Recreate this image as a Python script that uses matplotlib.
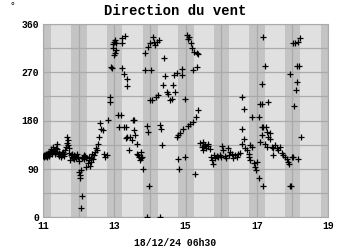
import matplotlib
matplotlib.use("Agg")
import matplotlib.pyplot as plt

# jours (decimal) et direction du vent en degres
days = [
    11.00, 11.02, 11.03, 11.05, 11.06, 11.08, 11.09, 11.11, 11.12, 11.14,
    11.15, 11.17, 11.18, 11.20, 11.22, 11.24, 11.25, 11.27, 11.29, 11.31,
    11.33, 11.35, 11.37, 11.38, 11.40, 11.42, 11.44, 11.46, 11.48, 11.50,
    11.52, 11.54, 11.56, 11.58, 11.60, 11.62, 11.64, 11.66, 11.68, 11.70,
    11.71, 11.72, 11.74, 11.76, 11.78, 11.80, 11.82, 11.84, 11.86, 11.88,
    11.90, 11.92, 11.94, 11.97, 12.00, 12.02, 12.04, 12.05, 12.06, 12.07,
    12.08, 12.10, 12.12, 12.14, 12.16, 12.18, 12.20, 12.22, 12.25, 12.28,
    12.30, 12.32, 12.34, 12.36, 12.38, 12.40, 12.43, 12.46, 12.49, 12.52,
    12.55, 12.57, 12.60, 12.63, 12.67, 12.71, 12.75, 12.79, 12.82, 12.87,
    12.89, 12.91, 12.93, 12.96, 12.97, 12.98, 12.99, 13.02, 13.02, 13.04,
    13.06, 13.11, 13.14, 13.18, 13.21, 13.21, 13.23, 13.26, 13.30, 13.26,
    13.32, 13.33, 13.35, 13.35, 13.37, 13.40, 13.44, 13.49, 13.53, 13.54,
    13.56, 13.58, 13.63, 13.65, 13.68, 13.70, 13.72, 13.74, 13.76, 13.79,
    13.82, 13.85, 13.86, 13.91, 13.93, 13.94, 13.94, 13.98, 14.01, 14.01,
    14.03, 14.05, 14.10, 14.12, 14.15, 14.16, 14.19, 14.24, 14.26, 14.29,
    14.29, 14.31, 14.33, 14.38, 14.41, 14.43, 14.47, 14.52, 14.57, 14.61,
    14.66, 14.69, 14.71, 14.75, 14.75, 14.78, 14.80, 14.82, 14.85, 14.89,
    14.91, 14.94, 14.99, 14.99, 15.04, 15.06, 15.06, 15.10, 15.13, 15.16,
    15.19, 15.22, 15.22, 15.25, 15.27, 15.29, 15.32, 15.32, 15.36, 15.36,
    15.41, 15.45, 15.48, 15.50, 15.52, 15.55, 15.58, 15.62, 15.64, 15.70,
    15.72, 15.75, 15.78, 15.80, 15.84, 15.88, 15.92, 15.96, 16.00, 16.02,
    16.06, 16.10, 16.14, 16.18, 16.22, 16.25, 16.30, 16.34, 16.39, 16.44,
    16.48, 16.53, 16.58, 16.58, 16.60, 16.63, 16.63, 16.67, 16.72, 16.77,
    16.77, 16.81, 16.81, 16.86, 16.86, 16.91, 16.95, 16.98, 17.00, 17.05,
    17.05, 17.08, 17.10, 17.14, 17.14, 17.14, 17.14, 17.19, 17.19, 17.19,
    17.24, 17.24, 17.26, 17.28, 17.28, 17.33, 17.33, 17.36, 17.38, 17.42,
    17.45, 17.47, 17.52, 17.56, 17.61, 17.66, 17.70, 17.75, 17.80, 17.84,
    17.89, 17.92, 17.94, 17.96, 17.94, 17.98, 18.03, 18.03, 18.05, 18.08,
    18.11, 18.13, 18.13, 18.17, 18.17, 18.20, 18.22, 18.24,
]
direction = [
    113, 115, 112, 116, 113, 118, 114, 117, 112, 120,
    116, 119, 113, 122, 127, 120, 118, 125, 130, 123,
    117, 121, 128, 136, 126, 118, 113, 120, 117, 112,
    119, 115, 121, 114, 118, 125, 130, 138, 150, 143,
    134, 129, 120, 106, 115, 118, 112, 110, 116, 108,
    113, 110, 117, 112, 105, 84, 78, 72, 17, 88,
    40, 110, 112, 116, 108, 113, 110, 93, 100, 106,
    112, 96, 103, 110, 117, 108, 115, 122, 128, 125,
    136, 150, 176, 165, 162, 118, 112, 115, 181, 224,
    215, 280, 278, 315, 322, 327, 302, 330, 305, 324,
    311, 190, 167, 190, 333, 278, 324, 168, 338, 267,
    167, 148, 257, 244, 150, 125, 150, 143, 181, 162,
    181, 153, 137, 118, 115, 112, 106, 121, 110, 112,
    90, 305, 274, 0, 170, 318, 159, 57, 324, 218,
    274, 219, 336, 327, 320, 223, 327, 227, 330, 0,
    171, 165, 134, 246, 297, 263, 233, 230, 218, 221,
    246, 265, 233, 268, 150, 109, 153, 90, 157, 265,
    276, 165, 221, 112, 340, 332, 170, 336, 174, 324,
    315, 178, 274, 308, 80, 187, 305, 280, 304, 199,
    138, 130, 140, 125, 133, 135, 128, 137, 132, 126,
    112, 106, 98, 115, 110, 114, 111, 116, 112, 132,
    125, 113, 110, 128, 116, 122, 118, 110, 115, 112,
    118, 120, 137, 165, 224, 146, 202, 128, 125, 118,
    112, 134, 106, 131, 186, 100, 93, 87, 103, 72,
    187, 210, 140, 153, 168, 210, 249, 57, 168, 335,
    282, 136, 168, 159, 131, 150, 215, 156, 146, 131,
    115, 128, 134, 128, 125, 131, 120, 115, 112, 109,
    103, 98, 267, 57, 57, 112, 112, 324, 207, 324,
    237, 252, 282, 327, 109, 282, 333, 150,
]

# nuits (bandes sombres)
night_start = [11.00, 11.795, 12.795, 13.795, 14.795, 15.795, 16.795, 17.795, 18.795]
night_end = [11.225, 12.225, 13.225, 14.225, 15.225, 16.225, 17.225, 18.225, 19.00]

x_ticks = [11, 13, 15, 17, 19]
y_ticks = [0, 90, 180, 270, 360]

plt.rcParams['font.family'] = ['Liberation Mono', 'DejaVu Sans Mono']

fig = plt.figure(figsize=(3.5, 2.5), dpi=100)
ax = fig.add_axes([0.123, 0.132, 0.814, 0.772])
ax.set_facecolor('#e0e0e0')

for s, e in zip(night_start, night_end):
    ax.axvspan(s, e, color='#c4c4c4', lw=0, zorder=0)

ax.set_xlim(11, 19)
ax.set_ylim(0, 360)
ax.set_xticks(x_ticks)
ax.set_xticks(range(11, 20), minor=True)
ax.set_yticks(y_ticks)
ax.set_yticks(range(45, 360, 90), minor=True)
ax.grid(True, which='both', color='#aaaaaa', lw=0.9, zorder=1)
ax.set_axisbelow(True)
ax.tick_params(which='both', length=0, labelsize=7, pad=3)
for lab in ax.get_xticklabels() + ax.get_yticklabels():
    lab.set_fontweight('bold')
for sp in ax.spines.values():
    sp.set_color('#aaaaaa')

ax.plot(days, direction, '+', color='black', ms=5, mew=0.9, zorder=3)

fig.text(0.5, 0.955, 'Direction du vent', ha='center', va='center',
         fontsize=10, fontweight='bold')
fig.text(0.035, 0.975, '°', ha='center', va='center', fontsize=7)
fig.text(0.5, 0.03, '18/12/24 06h30', ha='center', va='center',
         fontsize=7, fontweight='bold')

fig.savefig('out.png', dpi=100)
